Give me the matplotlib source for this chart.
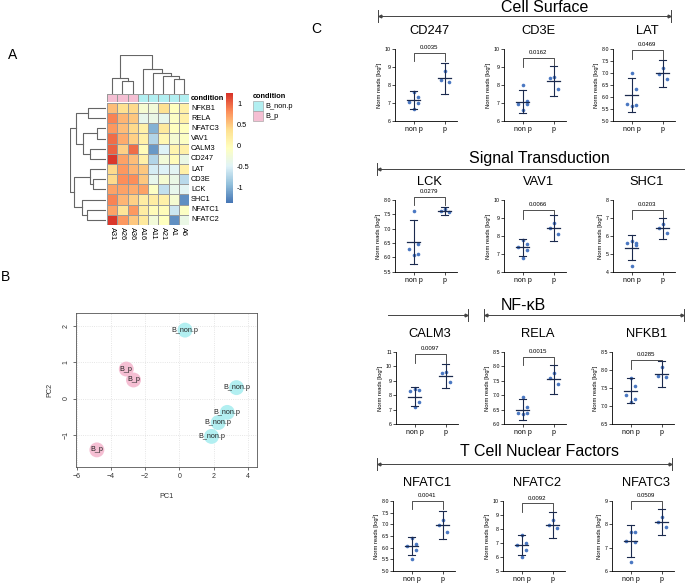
import matplotlib
matplotlib.use('Agg')
import matplotlib.pyplot as plt
import numpy as np
from matplotlib.colors import LinearSegmentedColormap, ListedColormap
from matplotlib.patches import Rectangle

plt.rcParams['font.family'] = ['Liberation Sans', 'DejaVu Sans']

W, H = 685, 584

# ---- panel A: heatmap of z-scores ----
hm_genes = ['NFKB1', 'RELA', 'NFATC3', 'VAV1', 'CALM3', 'CD247',
            'LAT', 'CD3E', 'LCK', 'SHC1', 'NFATC1', 'NFATC2']
hm_samples = ['A31', 'A26', 'A36', 'A16', 'A11', 'A21', 'A1', 'A6']
hm_condition = ['B_p', 'B_p', 'B_p', 'B_non.p', 'B_non.p', 'B_non.p', 'B_non.p', 'B_non.p']
hm_values = [
    [0.55, 0.35, 0.40, -0.20, -0.25, 0.35, -0.05, 0.15],
    [0.85, 0.60, 0.50, -0.40, -0.35, -0.40, -0.10, 0.15],
    [0.75, 0.55, 0.40, 0.15, -1.00, 0.25, -0.05, -0.05],
    [0.95, 0.65, 0.45, 0.15, -0.75, 0.05, -0.20, -0.10],
    [1.00, 0.45, 0.95, 0.00, -1.15, -0.50, 0.10, 0.15],
    [1.20, 0.70, 0.55, 0.15, -0.75, -0.25, 0.00, -0.35],
    [0.40, 0.75, 0.60, 0.50, -0.55, -0.50, -0.45, 0.15],
    [0.40, 0.80, 0.80, 0.50, -0.40, -0.20, -0.35, -0.70],
    [0.70, 0.70, 0.65, 0.70, -0.10, -0.65, -0.40, -0.45],
    [0.85, 0.60, 0.45, 0.20, 0.20, 0.15, -0.20, -1.20],
    [0.70, 0.30, 0.75, 0.20, 0.00, 0.00, -0.60, -0.10],
    [1.20, 0.75, 0.50, 0.25, -0.25, -0.05, -1.20, -0.35],
]
hm_range = (-1.36, 1.24)
cbar_ticks = [-1, -0.5, 0, 0.5, 1]

# dendrograms: (left, right, height relative to root)
row_tree = ((('NFKB1', 'RELA', 0.50),
             (('NFATC3', 'VAV1', 0.25), ('CALM3', 'CD247', 0.44), 0.64), 0.83),
            (('LAT', ('CD3E', 'LCK', 0.36), 0.44),
             ('SHC1', ('NFATC1', 'NFATC2', 0.53), 0.67), 0.89), 1.0)
col_tree = (('A31', ('A26', 'A36', 0.33), 0.41),
            ('A16', ('A11', ('A21', ('A1', 'A6', 0.38), 0.45), 0.54), 0.64), 1.0)

# ---- panel B: PCA ----
pc1_non_p = [0.33, 3.34, 2.80, 2.27, 1.88]
pc2_non_p = [1.88, 0.30, -0.38, -0.66, -1.04]
pc1_p = [-3.10, -2.68, -4.82]
pc2_p = [0.81, 0.51, -1.41]

# ---- panel C: normalised reads per gene ----
c_genes = ['CD247', 'CD3E', 'LAT', 'LCK', 'VAV1', 'SHC1',
           'CALM3', 'RELA', 'NFKB1', 'NFATC1', 'NFATC2', 'NFATC3']
nonp_reads = [[7.60, 7.35, 7.05, 7.00, 6.65], [7.98, 7.10, 6.95, 6.92, 6.60],
              [7.02, 6.35, 5.72, 5.65, 5.62], [7.60, 6.45, 6.28, 6.10, 6.08],
              [7.78, 7.55, 7.40, 7.20, 6.75], [5.72, 5.60, 5.58, 5.50, 4.32],
              [8.45, 8.35, 8.30, 7.50, 7.15], [6.93, 6.60, 6.39, 6.39, 6.35],
              [7.76, 7.55, 7.30, 7.20, 7.12], [6.40, 6.17, 6.06, 5.89, 5.53],
              [7.57, 6.98, 6.86, 6.50, 6.02], [7.69, 7.66, 7.29, 7.26, 6.37]]
p_reads = [[8.80, 8.30, 8.15], [8.43, 8.40, 7.80], [7.22, 6.97, 6.75],
           [7.68, 7.62, 7.58], [8.73, 8.45, 8.12], [6.65, 6.42, 6.18],
           [9.57, 9.50, 8.88], [7.77, 7.60, 7.37], [8.07, 7.83, 7.80],
           [7.19, 6.97, 6.69], [8.64, 8.29, 8.05], [8.33, 8.09, 7.90]]
nonp_mean = [7.16, 7.07, 6.08, 6.55, 7.36, 5.34, 7.89, 6.50, 7.42, 6.07, 6.86, 7.29]
nonp_sd = [0.48, 0.63, 0.73, 0.77, 0.48, 0.70, 0.65, 0.35, 0.34, 0.38, 0.74, 0.67]
p_mean = [8.37, 8.22, 6.99, 7.62, 8.42, 6.42, 9.32, 7.54, 7.88, 6.97, 8.29, 8.09]
p_sd = [0.88, 0.83, 0.58, 0.15, 0.72, 0.57, 0.84, 0.49, 0.37, 0.60, 0.90, 0.56]
p_values = ['0.0035', '0.0162', '0.0469', '0.0279', '0.0066', '0.0203',
            '0.0097', '0.0015', '0.0285', '0.0041', '0.0092', '0.0509']
bracket_level = [9.81, 9.50, 7.97, 8.12, 9.44, 7.44, 10.82, 8.33, 8.27, 8.00, 9.83, 9.00]
y_axis = [(6, 10, 1), (6, 10, 1), (5, 8, 0.5), (5.5, 8, 0.5), (6, 10, 1), (4, 8, 1),
          (6, 11, 1), (6, 8.5, 0.5), (6.5, 8.5, 0.5), (5, 8, 0.5), (5, 10, 1), (6, 9, 1)]
group_labels = ['non p', 'p']

CYAN = '#b2eff1'
PINK = '#f5bfd3'


def px_rect(x0, y0, x1, y1):
    """Pixel box (top-left origin) -> figure fraction rect."""
    return [x0 / W, 1 - y1 / H, (x1 - x0) / W, (y1 - y0) / H]


def draw_tree(ax, node, leaves, side):
    if isinstance(node, str):
        return leaves.index(node) + 0.5, 0.0
    left, right, h = node
    pl, hl = draw_tree(ax, left, leaves, side)
    pr, hr = draw_tree(ax, right, leaves, side)
    if side == 'top':
        ax.plot([pl, pl, pr, pr], [hl, h, h, hr], color='#666666', lw=0.8)
    else:
        ax.plot([hl, h, h, hr], [pl, pl, pr, pr], color='#666666', lw=0.8)
    return (pl + pr) / 2, h


fig = plt.figure(figsize=(W / 100, H / 100), dpi=100)

# ---------------- A ----------------
cmap = LinearSegmentedColormap.from_list(
    'rdylbu', ['#4575B4', '#91BFDB', '#E0F3F8', '#FFFFBF', '#FEE090', '#FC8D59', '#D73027'])
z = np.array(hm_values)
ax_hm = fig.add_axes(px_rect(107, 103, 189, 225))
mesh = ax_hm.pcolormesh(np.arange(len(hm_samples) + 1), np.arange(len(hm_genes) + 1), z,
                        cmap=cmap, vmin=hm_range[0], vmax=hm_range[1],
                        edgecolors='#9a9a9a', linewidth=0.5)
ax_hm.set_xlim(0, len(hm_samples))
ax_hm.set_ylim(len(hm_genes), 0)
ax_hm.axis('off')

ax_cond = fig.add_axes(px_rect(107, 94, 189, 102))
cond_idx = np.array([[0 if c == 'B_non.p' else 1 for c in hm_condition]])
ax_cond.pcolormesh(np.arange(len(hm_samples) + 1), [0, 1], cond_idx,
                   cmap=ListedColormap([CYAN, PINK]), vmin=0, vmax=1,
                   edgecolors='#9a9a9a', linewidth=0.5)
ax_cond.set_xlim(0, len(hm_samples))
ax_cond.axis('off')

ax_dc = fig.add_axes(px_rect(107, 55, 189, 94))
draw_tree(ax_dc, col_tree, hm_samples, 'top')
ax_dc.set_xlim(0, len(hm_samples))
ax_dc.set_ylim(0, 1.0)
ax_dc.axis('off')

ax_dr = fig.add_axes(px_rect(70, 103, 106, 225))
draw_tree(ax_dr, row_tree, hm_genes, 'left')
ax_dr.set_xlim(1.0, 0)
ax_dr.set_ylim(len(hm_genes), 0)
ax_dr.axis('off')

ax_cb = fig.add_axes(px_rect(226, 93, 233, 203))
cb = fig.colorbar(mesh, cax=ax_cb, ticks=cbar_ticks)
cb.outline.set_visible(False)
cb.ax.tick_params(length=0, labelsize=5.3, pad=3)
cb.ax.set_yticklabels(['-1', '-0.5', '0', '0.5', '1'])

# overlay axes in pixel units for labels, headers and brackets
ov = fig.add_axes([0, 0, 1, 1], facecolor='none')
ov.set_xlim(0, W)
ov.set_ylim(H, 0)
ov.axis('off')

for i, g in enumerate(hm_genes):
    ov.text(191, 103 + (i + 0.5) * 122 / len(hm_genes), g, fontsize=5.3, va='center', ha='left')
for j, s in enumerate(hm_samples):
    ov.text(107 + (j + 0.5) * 82 / len(hm_samples), 227, s, fontsize=5.3,
            rotation=270, ha='center', va='top')
ov.text(191, 98, 'condition', fontsize=5.3, fontweight='bold', va='center')
ov.text(253, 96.5, 'condition', fontsize=5.3, fontweight='bold', va='center')
ov.add_patch(Rectangle((253, 101), 10, 10, facecolor=CYAN, edgecolor='#9a9a9a', lw=0.4))
ov.add_patch(Rectangle((253, 111), 10, 10, facecolor=PINK, edgecolor='#9a9a9a', lw=0.4))
ov.text(265, 106, 'B_non.p', fontsize=5.3, va='center')
ov.text(265, 116, 'B_p', fontsize=5.3, va='center')

# ---------------- B ----------------
ax_pca = fig.add_axes(px_rect(76, 313, 257, 467))
ax_pca.grid(color='#dddddd', linestyle=':', lw=0.6)
ax_pca.set_axisbelow(True)
ax_pca.scatter(pc1_non_p, pc2_non_p, s=115, color=CYAN, edgecolors='none', zorder=2)
ax_pca.scatter(pc1_p, pc2_p, s=115, color=PINK, edgecolors='none', zorder=2)
for x, y in zip(pc1_non_p, pc2_non_p):
    ax_pca.text(x, y, 'B_non.p', fontsize=5.2, ha='center', va='center', color='#222222', zorder=3)
for x, y in zip(pc1_p, pc2_p):
    ax_pca.text(x, y, 'B_p', fontsize=5.2, ha='center', va='center', color='#222222', zorder=3)
ax_pca.set_xlim(-6.04, 4.54)
ax_pca.set_ylim(-1.88, 2.35)
ax_pca.set_xticks([-6, -4, -2, 0, 2, 4])
ax_pca.set_yticks([-1, 0, 1, 2])
ax_pca.tick_params(labelsize=5, length=2.5, width=0.5, colors='#333333', pad=2)
for lab in ax_pca.get_yticklabels():
    lab.set_rotation(90)
    lab.set_va('center')
for sp in ax_pca.spines.values():
    sp.set_color('#555555')
    sp.set_linewidth(0.6)
ax_pca.set_xlabel('PC1', fontsize=5.2, labelpad=9, color='#333333')
ax_pca.set_ylabel('PC2', fontsize=5.2, labelpad=7, color='#333333')

# ---------------- C ----------------
row_tops = [49.3, 200, 351.7, 501]
row_bottoms = [120.7, 271.7, 424, 571]
col_lefts = [395, 504, 613, 395, 504, 613, 396, 504, 612, 393, 503, 612]
nonp_jitter = [0.0, 0.14, -0.14, 0.14, 0.0]
p_jitter = [0.0, -0.13, 0.13]
BAR = '#1b2a4e'
DOT = '#4a78c2'

for k, gene in enumerate(c_genes):
    r = k // 3
    x0 = col_lefts[k]
    ax = fig.add_axes(px_rect(x0, row_tops[r], x0 + 62, row_bottoms[r]))
    lo, hi, step = y_axis[k]
    ax.set_xlim(-0.6, 1.4)
    ax.set_ylim(lo, hi)
    ticks = np.arange(lo, hi + step / 2, step)
    ax.set_yticks(ticks)
    if step < 1:
        ax.set_yticklabels(['%.1f' % t for t in ticks])
    else:
        ax.set_yticklabels(['%d' % t for t in ticks])
    ax.set_xticks([0, 1])
    ax.set_xticklabels(group_labels)
    ax.spines['top'].set_visible(False)
    ax.spines['right'].set_visible(False)
    ax.spines['left'].set_linewidth(0.6)
    ax.spines['bottom'].set_linewidth(0.6)
    ax.tick_params(axis='y', labelsize=3.8, length=2, width=0.5, pad=1)
    ax.tick_params(axis='x', labelsize=5, length=2, width=0.5, pad=1.5)
    ax.set_ylabel('Norm reads [log²]', fontsize=4.2, labelpad=2)
    ax.patch.set_alpha(0)

    for xc, vals, jit in ((0, nonp_reads[k], nonp_jitter), (1, p_reads[k], p_jitter)):
        ax.plot(np.array(jit[:len(vals)]) + xc, vals, 'o', ms=2.6, color=DOT,
                markeredgewidth=0, zorder=3)
    for xc, m, sd in ((0, nonp_mean[k], nonp_sd[k]), (1, p_mean[k], p_sd[k])):
        ax.plot([xc - 0.22, xc + 0.22], [m, m], color=BAR, lw=0.9, zorder=4)
        ax.plot([xc, xc], [m - sd, m + sd], color=BAR, lw=0.8, zorder=4)
        ax.plot([xc - 0.12, xc + 0.12], [m + sd, m + sd], color=BAR, lw=0.8, zorder=4)
        ax.plot([xc - 0.12, xc + 0.12], [m - sd, m - sd], color=BAR, lw=0.8, zorder=4)

    b = bracket_level[k]
    leg = (hi - lo) * 0.12
    ax.plot([0, 0, 1, 1], [b - leg, b, b, b - leg], color='#333333', lw=0.6, clip_on=False)
    ax.text(0.5, b + (hi - lo) * 0.04, p_values[k], fontsize=4.3, ha='center', va='bottom')
    ax.text(0.55, 1.25, gene, transform=ax.transAxes, fontsize=9.3, ha='center', va='center')

# group headers with brackets
headers = [('Cell Surface', 545, 7), ('Signal Transduction', 539, 158),
           ('NF-κB', 523, 305), ('T Cell Nuclear Factors', 540, 452)]
for text, hx, hy in headers:
    ov.text(hx, hy, text, fontsize=11.5, ha='center', va='center')

spans = [(378, 671, 16, True, True), (377, 690, 169, True, False),
         (388, 468, 315, False, True), (484, 684, 315, True, True),
         (377, 672, 464, True, True)]
for xa, xb, yy, bar_a, bar_b in spans:
    ov.plot([xa, xb], [yy, yy], color='#444444', lw=0.7)
    if bar_a:
        ov.plot([xa, xa], [yy - 6, yy + 6], color='#444444', lw=0.7)
        ov.plot(xa + 2, yy, marker='<', ms=2, color='#444444')
    if bar_b:
        ov.plot([xb, xb], [yy - 6, yy + 6], color='#444444', lw=0.7)
        ov.plot(xb - 2, yy, marker='>', ms=2, color='#444444')

ov.text(13, 55, 'A', fontsize=10, ha='center', va='center')
ov.text(6, 277, 'B', fontsize=10, ha='center', va='center')
ov.text(316, 29, 'C', fontsize=10, ha='center', va='center')

fig.savefig('out.png', dpi=100)
